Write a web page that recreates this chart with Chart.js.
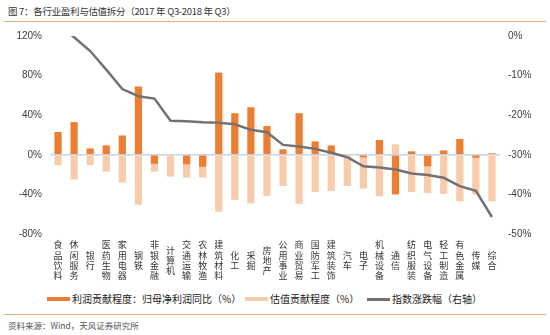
<!DOCTYPE html>
<html><head><meta charset="utf-8">
<script src="https://cdn.jsdelivr.net/npm/chart.js@4"></script>
<style>
html,body{margin:0;padding:0;background:#fff;}
#wrap{position:relative;width:550px;height:335px;overflow:hidden;font-family:"Noto Sans CJK SC","Liberation Sans",sans-serif;}
#title{position:absolute;left:8px;top:4px;font-size:9.5px;letter-spacing:-0.3px;color:#333;white-space:nowrap;}
#sep1{position:absolute;left:4px;right:4px;top:21px;height:0;border-top:1px solid #efb27a;}
#sep2{position:absolute;left:4px;right:4px;top:314px;height:0;border-top:1px solid #efb27a;}
#src{position:absolute;left:8px;top:319px;font-size:8.5px;color:#555;white-space:nowrap;}
#c{position:absolute;left:0;top:0;}
.lg{position:absolute;top:292px;height:14px;line-height:14px;font-size:10px;color:#222;white-space:nowrap;}
.sw{position:absolute;top:297px;height:4px;width:23px;}
</style></head>
<body><div id="wrap">
<div id="title">图 7：各行业盈利与估值拆分（2017 年 Q3-2018 年 Q3）</div>
<div id="sep1"></div>
<canvas id="c" width="550" height="290"></canvas>
<div id="legend"></div>
<div id="sep2"></div>
<div id="src">资料来源：Wind，天风证券研究所</div>
</div>
<script>
const categories = ['食品饮料','休闲服务','银行','医药生物','家用电器','钢铁','非银金融','计算机','交通运输','农林牧渔','建筑材料','化工','采掘','房地产','公用事业','商业贸易','国防军工','建筑装饰','汽车','电子','机械设备','通信','纺织服装','电气设备','轻工制造','有色金属','传媒','综合'];
const profitContribution = [23, 33, 6.5, 9.5, 19.5, 69, -9, 0, -9.5, -12, 83, 42, 48, 29, 5.5, 42, 13.5, 9.5, 0, -2.5, 15, -40, 3.5, -11.5, 4.5, 16, -3, 1.5];
const valuationContribution = [-10.5, -25, -10.5, -17, -28, -50.5, -17, -22, -23, -23, -57.5, -45.5, -49, -41.5, -31.5, -49.5, -37.5, -36.5, -31.5, -34, -42, 10.5, -37.5, -38.5, -39.5, -47, -40, -47];
const indexChange = [3, -0.3, -3.8, -8.5, -13.4, -15.2, -15.8, -21.4, -21.5, -21.8, -21.9, -22.3, -23.7, -24.3, -27.5, -27.9, -28.5, -29.5, -30.6, -32.9, -33.2, -33.7, -34.7, -35.1, -35.8, -37.9, -39.1, -45.7];
const leftTicks = [-80, -40, 0, 40, 80, 120];
const rightTicks = [-50, -40, -30, -20, -10, 0];
const seriesNames = ['利润贡献程度：归母净利润同比（%）', '估值贡献程度（%）', '指数涨跌幅（右轴）'];

const DARK = '#ED7D31', LIGHT = '#F8CBAD', GRAY = '#767171';
const seriesColors = [DARK, LIGHT, GRAY];

// HTML legend (real text)
const legendX = [[47, 72], [245, 270], [367, 392]];
const lgEl = document.getElementById('legend');
seriesNames.forEach((name, i) => {
  const sw = document.createElement('div');
  sw.className = 'sw'; sw.style.left = legendX[i][0] + 'px'; sw.style.background = seriesColors[i];
  if (i === 2) { sw.style.height = '3px'; sw.style.top = '298px'; }
  const tx = document.createElement('div');
  tx.className = 'lg'; tx.style.left = legendX[i][1] + 'px'; tx.textContent = name;
  lgEl.appendChild(sw); lgEl.appendChild(tx);
});

Chart.defaults.font.family = '"Liberation Sans","Noto Sans CJK SC",sans-serif';
Chart.defaults.color = '#404040';

new Chart(document.getElementById('c'), {
  type: 'bar',
  data: {
    labels: categories.map(s => s.split('')),
    datasets: [
      {label: seriesNames[0], data: profitContribution, backgroundColor: DARK, grouped: false, order: 1, yAxisID: 'y', barPercentage: 0.45, categoryPercentage: 1},
      {label: seriesNames[1], data: valuationContribution, backgroundColor: LIGHT, grouped: false, order: 2, yAxisID: 'y', barPercentage: 0.45, categoryPercentage: 1},
      {type: 'line', label: seriesNames[2], data: indexChange, borderColor: GRAY, backgroundColor: GRAY, borderWidth: 2.5, pointRadius: 0, tension: 0, order: 0, yAxisID: 'y1'}
    ]
  },
  options: {
    responsive: false, animation: false,
    layout: {padding: {left: 0, right: 0, top: 36, bottom: 0}},
    plugins: {tooltip: {enabled: false}, legend: {display: false}},
    scales: {
      x: {
        grid: {display: false, drawTicks: false}, border: {display: false},
        afterFit: s => { s.height = 56; },
        ticks: {autoSkip: false, maxRotation: 0, minRotation: 0, padding: 11, crossAlign: 'center',
          font: {size: 9, lineHeight: '10.3px', family: '"Noto Sans CJK SC",sans-serif'}, color: '#333'}
      },
      y: {
        position: 'left', min: -80, max: 120,
        afterBuildTicks: s => { s.ticks = leftTicks.map(v => ({value: v})); },
        afterFit: s => { s.width = 50; },
        grid: {drawTicks: false, color: c => c.tick && c.tick.value === 0 ? '#c8d3e0' : 'rgba(0,0,0,0)', lineWidth: 1.5},
        border: {display: false},
        ticks: {padding: 8, font: {size: 10}, callback: v => v + '%'}
      },
      y1: {
        position: 'right', min: -50, max: 0,
        afterBuildTicks: s => { s.ticks = rightTicks.map(v => ({value: v})); },
        afterFit: s => { s.width = 50; },
        grid: {display: false, drawTicks: false}, border: {display: false},
        ticks: {padding: 8, font: {size: 10}, callback: v => v + '%'}
      }
    }
  }
});
</script>
</body></html>
